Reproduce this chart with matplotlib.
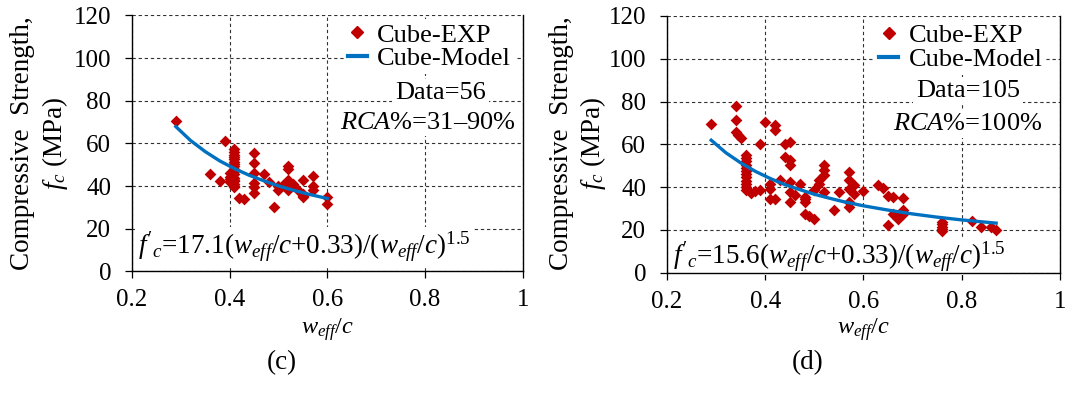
import matplotlib.pyplot as plt
from matplotlib.lines import Line2D

plt.rcParams['font.family'] = ['Liberation Serif', 'DejaVu Serif']
plt.rcParams['mathtext.fontset'] = 'custom'
plt.rcParams['mathtext.rm'] = 'Liberation Serif'
plt.rcParams['mathtext.it'] = 'Liberation Serif:italic'

RED = '#C00000'
BLUE = '#0070C0'

# ---- panel (c): RCA% = 31-90 %, 56 data ----
c_exp_x = [0.29, 0.36, 0.38, 0.39, 0.40, 0.40, 0.40,
           0.41, 0.41, 0.41, 0.41, 0.41, 0.41, 0.41, 0.41, 0.41, 0.41, 0.41, 0.41, 0.41, 0.41, 0.41,
           0.42, 0.43, 0.45, 0.45, 0.45, 0.45, 0.45, 0.47, 0.48, 0.49, 0.50, 0.50, 0.51,
           0.52, 0.52, 0.52, 0.52, 0.52, 0.53, 0.54, 0.55, 0.55, 0.55, 0.57, 0.57, 0.57,
           0.60, 0.60, 0.41, 0.41, 0.40, 0.45, 0.52, 0.55]
c_exp_y = [70.6, 45.6, 42.3, 61.1, 46.0, 43.5, 42.0,
           57.2, 56.0, 54.5, 53.5, 52.5, 51.5, 50.5, 49.5, 48.0, 47.0, 45.5, 44.0, 42.5, 41.0, 39.5,
           34.5, 33.8, 55.6, 50.8, 46.2, 39.7, 36.9, 45.5, 42.0, 30.4, 40.0, 38.1, 40.5,
           49.4, 47.8, 42.7, 40.0, 38.4, 41.0, 38.1, 42.8, 36.3, 34.9, 44.7, 40.0, 38.1,
           35.0, 31.5, 43.0, 40.2, 44.5, 41.5, 39.0, 35.5]
c_model_x = [0.29, 0.32, 0.35, 0.38, 0.41, 0.44, 0.47, 0.50, 0.53, 0.56, 0.60]
c_model_y = [67.9, 61.4, 56.2, 51.8, 48.2, 45.1, 42.5, 40.1, 38.1, 36.3, 34.2]

# ---- panel (d): RCA% = 100 %, 105 data ----
d_exp_x = [0.29, 0.34, 0.34, 0.34, 0.345, 0.35, 0.39, 0.40, 0.42, 0.42, 0.44, 0.45,
           0.44, 0.45, 0.45,
           0.36, 0.36, 0.36, 0.36, 0.36, 0.36, 0.36, 0.36, 0.36, 0.36, 0.36, 0.36,
           0.37, 0.38, 0.39, 0.41, 0.41, 0.41, 0.42, 0.43,
           0.45, 0.45, 0.45, 0.46, 0.47, 0.48, 0.48, 0.48, 0.48, 0.49, 0.50, 0.50,
           0.51, 0.52, 0.52, 0.52, 0.52, 0.51, 0.54, 0.55,
           0.57, 0.57, 0.57, 0.57, 0.57, 0.58, 0.58, 0.60, 0.63, 0.64, 0.65, 0.66,
           0.65, 0.66, 0.67, 0.67, 0.68, 0.68, 0.68,
           0.76, 0.76, 0.76, 0.76, 0.76, 0.82, 0.84, 0.86, 0.87]
d_exp_y = [69.7, 78.1, 71.3, 65.5, 64.2, 62.7, 60.0, 70.2, 68.8, 66.6, 60.0, 60.9,
           54.0, 52.8, 50.2,
           54.8, 53.5, 52.0, 50.5, 49.0, 47.5, 46.0, 44.5, 43.0, 41.5, 40.0, 38.4,
           37.2, 38.1, 38.5, 41.6, 39.2, 34.5, 34.5, 43.1,
           42.3, 37.7, 33.0, 36.1, 41.6, 35.3, 33.0, 34.2, 27.5, 26.3, 24.8, 38.8,
           43.1, 47.8, 50.5, 45.5, 37.7, 41.5, 29.4, 37.7,
           47.0, 43.1, 39.2, 30.6, 33.0, 40.8, 36.9, 38.3, 40.9, 39.7, 35.9, 35.5,
           22.3, 27.6, 25.2, 26.0, 34.8, 29.1, 27.5,
           23.6, 22.5, 21.5, 20.5, 19.5, 24.0, 21.4, 21.4, 19.8]
d_model_x = [0.29, 0.32, 0.35, 0.38, 0.41, 0.44, 0.47, 0.50, 0.53, 0.56, 0.60,
             0.65, 0.70, 0.75, 0.80, 0.87]
d_model_y = [61.9, 56.0, 51.3, 47.3, 44.0, 41.1, 38.8, 36.6, 34.8, 33.1, 31.2,
             29.2, 27.4, 25.9, 24.6, 23.1]

x_ticks = [0.2, 0.4, 0.6, 0.8, 1.0]
x_ticklabels = ['0.2', '0.4', '0.6', '0.8', '1']
y_ticks = [0, 20, 40, 60, 80, 100, 120]

fig = plt.figure(figsize=(10.72, 3.98), dpi=100)
ax1 = fig.add_axes([0.123, 0.318, 0.3646, 0.6432])
ax2 = fig.add_axes([0.6222, 0.3153, 0.3666, 0.6445])


def panel(ax, ex, ey, mx, my, eq, eq_y, eq_pad, leg_x, data_txt, rca_txt, txt_x, data_y, rca_y):
    ax.set_axisbelow(True)
    ax.scatter(ex, ey, marker='D', s=36, color=RED, linewidths=0, zorder=3)
    ax.plot(mx, my, color=BLUE, lw=2.4, zorder=4)
    ax.set_xlim(0.2, 1.0)
    ax.set_ylim(0, 120)
    ax.set_xticks(x_ticks)
    ax.set_xticklabels(x_ticklabels)
    ax.set_yticks(y_ticks)
    ax.grid(True, color='#333333', linestyle=(0, (3, 2.5)), linewidth=0.8)
    ax.spines['top'].set_visible(False)
    for s in ['left', 'bottom', 'right']:
        ax.spines[s].set_visible(True)
        ax.spines[s].set_color('black')
        ax.spines[s].set_linewidth(1.0)
        ax.spines[s].set_zorder(7)
    ax.tick_params(axis='both', direction='out', length=5, width=0.9, labelsize=18)
    ax.tick_params(axis='y', pad=10)
    ax.tick_params(axis='x', pad=8)

    handles = [Line2D([], [], marker='D', color=RED, ls='none', markersize=6),
               Line2D([], [], color=BLUE, lw=3)]
    leg = ax.legend(handles, ['Cube-EXP', 'Cube-Model'], loc='upper right',
                    bbox_to_anchor=(leg_x, 0.985), fontsize=19, handlelength=0.7,
                    handletextpad=0.4, labelspacing=0.0, borderpad=0.15,
                    borderaxespad=0.0, fancybox=False, framealpha=1)
    leg.get_frame().set_edgecolor('none')
    leg.set_zorder(6)

    box = dict(facecolor='white', edgecolor='none', pad=2)
    ax.text(txt_x[0], data_y, data_txt, transform=ax.get_yaxis_transform(),
            ha='center', va='baseline', fontsize=19, bbox=box, zorder=5)
    ax.text(txt_x[1], rca_y, rca_txt, transform=ax.get_yaxis_transform(),
            ha='center', va='baseline', fontsize=19, bbox=box, zorder=5)
    ax.text(0.015, eq_y, eq, transform=ax.get_yaxis_transform(),
            ha='left', va='baseline', fontsize=19.5,
            bbox=dict(facecolor='white', edgecolor='none', pad=eq_pad), zorder=5)


panel(ax1, c_exp_x, c_exp_y, c_model_x, c_model_y,
      r"$f'_c$=17.1($w_{eff}$/$c$+0.33)/($w_{eff}$/$c$)$^{1.5}$", 8.5, 2, 0.98,
      'Data=56', r'$RCA\%$=31–90%', (0.79, 0.757), 81.0, 67.0)
panel(ax2, d_exp_x, d_exp_y, d_model_x, d_model_y,
      r"$f'_c$=15.6($w_{eff}$/$c$+0.33)/($w_{eff}$/$c$)$^{1.5}$", 4.0, 0.5, 0.965,
      'Data=105', r'$RCA\%$=100%', (0.766, 0.766), 82.3, 66.5)

# y labels (two lines, rotated) and x labels, panel tags
for x1, x2 in [(0.0209, 0.0513), (0.524, 0.553)]:
    fig.text(x1, 0.64, 'Compressive  Strength,', rotation=90, ha='center', va='center', fontsize=19.5)
    fig.text(x2, 0.64, r'$f_c$ (MPa)', rotation=90, ha='center', va='center', fontsize=19.5)
for xc in [0.3053, 0.8055]:
    fig.text(xc, 0.171, r'$w_{eff}/c$', ha='center', va='center', fontsize=17.5)
fig.text(0.263, 0.088, '(c)', ha='center', va='center', fontsize=19.5)
fig.text(0.753, 0.088, '(d)', ha='center', va='center', fontsize=19.5)

fig.savefig('out.png', dpi=100)
